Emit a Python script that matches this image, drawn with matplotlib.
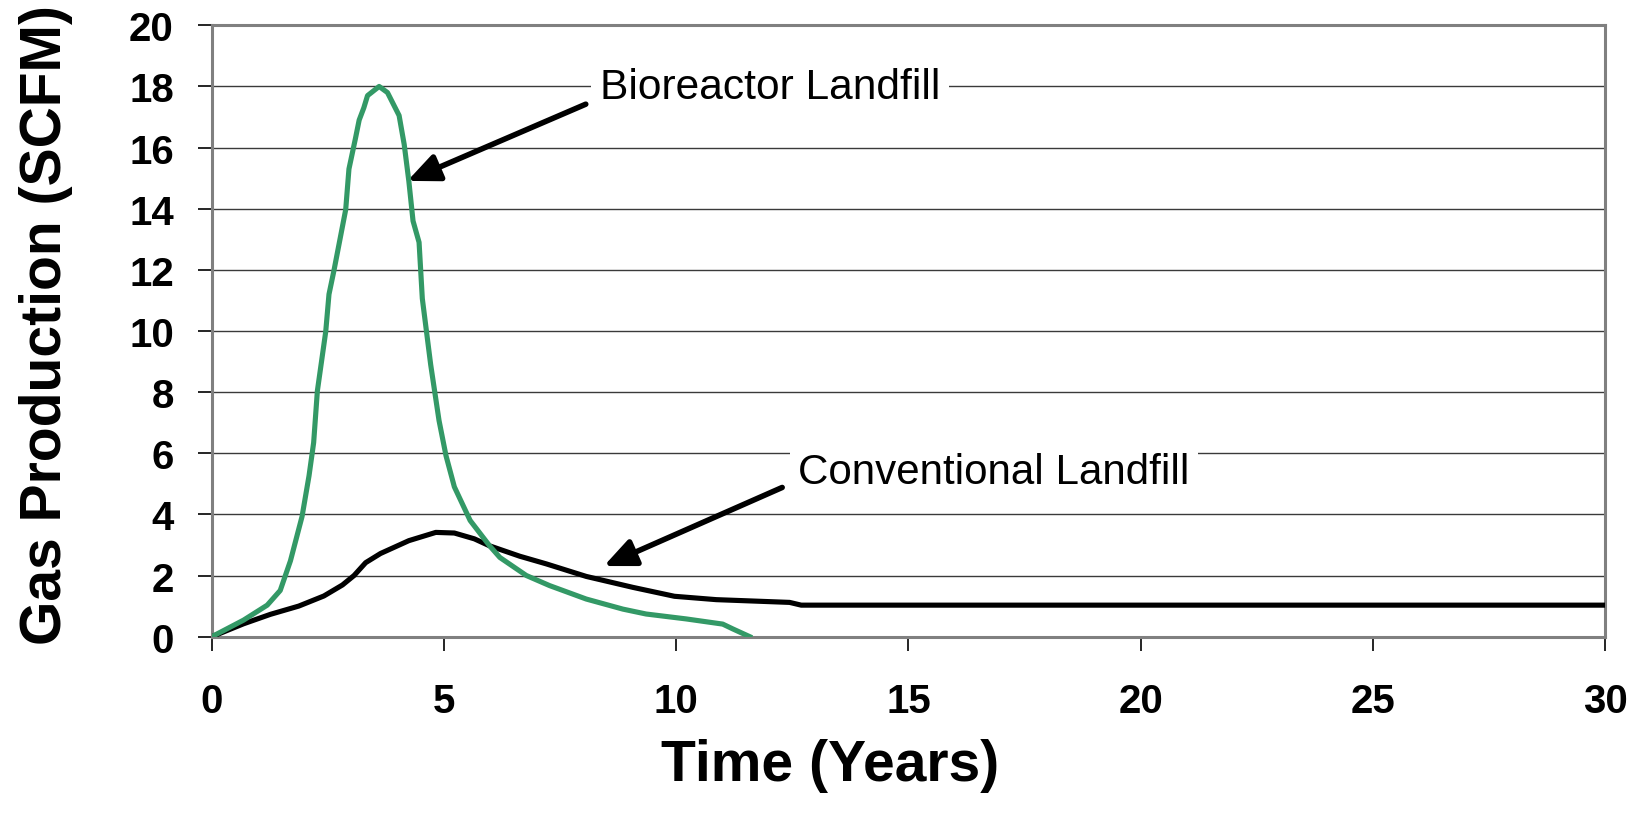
import matplotlib.pyplot as plt

plt.rcParams["font.family"] = ["Liberation Sans", "DejaVu Sans"]

# bioreactor landfill curve (years, SCFM)
bio_t = [0, 0.68, 1.19, 1.47, 1.69, 1.94, 2.09, 2.19, 2.27, 2.45, 2.52, 2.63,
         2.88, 2.95, 3.09, 3.17, 3.27, 3.35, 3.6, 3.78, 4.03, 4.14, 4.24, 4.33,
         4.46, 4.53, 4.71, 4.89, 5.04, 5.22, 5.56, 5.98, 6.2, 6.77, 7.27, 8.06,
         8.85, 9.35, 10.21, 11.0, 11.22, 11.58]
bio_g = [0, 0.54, 1.03, 1.51, 2.48, 3.93, 5.26, 6.35, 8.04, 9.98, 11.2, 12.0,
         13.97, 15.3, 16.3, 16.9, 17.3, 17.7, 18.0, 17.8, 17.05, 16.1, 14.9, 13.6,
         12.9, 11.06, 8.9, 7.07, 5.92, 4.9, 3.8, 2.97, 2.59, 2.0, 1.67, 1.23,
         0.9, 0.74, 0.58, 0.41, 0.25, 0.0]

# conventional landfill curve
conv_t = [0, 0.68, 1.26, 1.87, 2.41, 2.81, 3.06, 3.31, 3.63, 4.24, 4.82, 5.22,
          5.65, 5.98, 6.63, 7.2, 8.06, 9.07, 9.96, 10.86, 12.44, 12.69, 30]
conv_g = [0, 0.42, 0.73, 1.0, 1.33, 1.69, 2.0, 2.42, 2.72, 3.14, 3.41, 3.39,
          3.2, 2.97, 2.63, 2.38, 1.97, 1.61, 1.32, 1.21, 1.12, 1.03, 1.03]

x_ticks = [0, 5, 10, 15, 20, 25, 30]
y_ticks = [0, 2, 4, 6, 8, 10, 12, 14, 16, 18, 20]

fig = plt.figure(figsize=(16.47, 8.2), dpi=100)
ax = fig.add_axes([0.1287, 0.2224, 0.8458, 0.7455])

ax.plot(conv_t, conv_g, color="black", lw=3.7, zorder=3, solid_joinstyle="round")
ax.plot(bio_t, bio_g, color="#339966", lw=3.7, zorder=3, solid_joinstyle="round")

ax.set_xlim(0, 30)
ax.set_ylim(0, 20)
ax.set_xticks(x_ticks)
ax.set_yticks(y_ticks)
ax.yaxis.grid(True, color="#3a3a3a", lw=1.0, zorder=0)
ax.set_axisbelow(True)

for s in ax.spines.values():
    s.set_color("#808080")
    s.set_linewidth(2.2)

ax.tick_params(axis="both", direction="out", length=10, width=1.2, color="black",
               labelsize=29)
ax.tick_params(axis="x", pad=23)
ax.tick_params(axis="y", pad=17.5)
for lab in ax.get_xticklabels() + ax.get_yticklabels():
    lab.set_fontweight("bold")

ax.set_xlabel("Time (Years)", fontsize=41, fontweight="bold", va="baseline")
ax.xaxis.set_label_coords(0.444, -0.235)
ax.set_ylabel("Gas Production (SCFM)", fontsize=41, fontweight="bold")
ax.yaxis.set_label_coords(-0.100, 0.5106)

box = dict(facecolor="white", edgecolor="none", pad=6)
ax.text(8.35, 17.98, "Bioreactor Landfill", fontsize=30.6, ha="left", va="center",
        bbox=box, zorder=4)
ax.text(12.62, 5.38, "Conventional Landfill", fontsize=30.3, ha="left", va="center",
        bbox=box, zorder=4)

arrow = dict(arrowstyle="-|>,head_length=0.95,head_width=0.42", lw=4,
             color="black", shrinkA=0, shrinkB=0, mutation_scale=20)
ax.annotate("", xy=(4.21, 14.91), xytext=(8.05, 17.42), arrowprops=arrow, zorder=5)
ax.annotate("", xy=(8.44, 2.31), xytext=(12.28, 4.88), arrowprops=arrow, zorder=5)

fig.savefig("out.png", dpi=100, facecolor="white")
